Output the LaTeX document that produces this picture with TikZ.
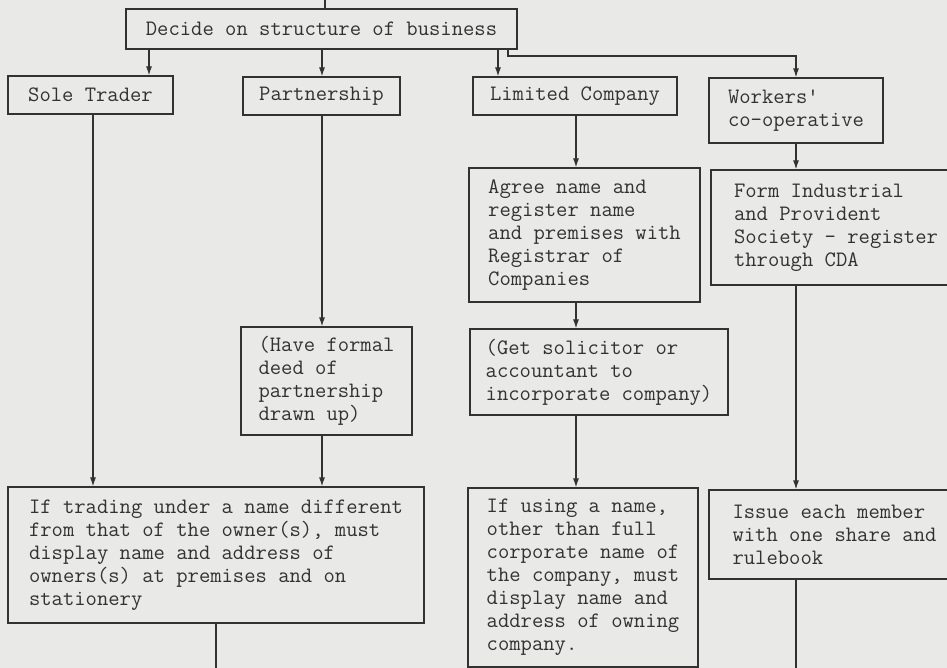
\documentclass[tikz,border=0pt]{standalone}
\usepackage{fontspec}
\usetikzlibrary{arrows.meta}
\definecolor{bgc}{RGB}{233,233,231}
\definecolor{ink}{RGB}{50,50,50}
\begin{document}
\begin{tikzpicture}[x=1pt,y=-1pt,
  box/.style={draw=ink, line width=1.2pt, rectangle, inner sep=0pt, align=left,
    font=\ttfamily\fontsize{22}{23}\selectfont, text=ink},
  arr/.style={draw=ink, line width=1.2pt, -{Latex[length=9pt,width=6pt]}},
  ln/.style={draw=ink, line width=1.2pt}]
\fill[bgc] (0,0) rectangle (947,668);
\useasboundingbox (0,0) rectangle (947,668);
\clip (0,0) rectangle (947,668);

% boxes
\node[box, minimum width=391pt, minimum height=40pt] (decide) at (321.5,29) {Decide on structure of business};
\node[box, minimum width=165pt, minimum height=38pt] (sole) at (90.5,95) {Sole Trader};
\node[box, minimum width=157pt, minimum height=38pt] (part) at (321.5,96) {Partnership};
\node[box, minimum width=204pt, minimum height=38pt] (lim) at (575,96) {Limited Company};
\node[box, minimum width=174pt, minimum height=65pt] (work) at (796,110.5) {Workers'\\co-operative};
\node[box, minimum width=231pt, minimum height=134pt] (agree) at (584.5,235) {Agree name and\\register name\\and premises with\\Registrar of\\Companies};
\node[box, minimum width=250pt, minimum height=115pt] (form) at (836,227.5) {Form Industrial\\and Provident\\Society - register\\through CDA};
\node[box, minimum width=171pt, minimum height=108pt] (have) at (326.5,381) {(Have formal\\deed of\\partnership\\drawn up)};
\node[box, minimum width=258pt, minimum height=86pt] (get) at (599,372) {(Get solicitor or\\accountant to\\incorporate company)};
\node[box, minimum width=416pt, minimum height=136pt] (iftr) at (216,555) {If trading under a name different\\from that of the owner(s), must\\display name and address of\\owners(s) at premises and on\\stationery};
\node[box, minimum width=230pt, minimum height=179pt] (ifus) at (583,577.5) {If using a name,\\other than full\\corporate name of\\the company, must\\display name and\\address of owning\\company.};
\node[box, minimum width=251pt, minimum height=89pt] (issue) at (834.5,534.5) {Issue each member\\with one share and\\rulebook};

% column coordinates
\coordinate (topc) at (325,0);
\coordinate (xa) at (149,0);
\coordinate (xb) at (93,0);
\coordinate (xp) at (322,0);
\coordinate (xl) at (498,0);
\coordinate (xc) at (576,0);
\coordinate (xw) at (508,0);
\coordinate (yw) at (0,56);
\coordinate (endl) at (216,668);
\coordinate (endr) at (796,668);

% connectors
\draw[ln] (topc) -- (decide.north -| topc);
\draw[arr] (decide.south -| xa) -- (sole.north -| xa);
\draw[arr] (decide.south -| xp) -- (part.north -| xp);
\draw[arr] (decide.south -| xl) -- (lim.north -| xl);
\draw[arr] (decide.south -| xw) -- (xw |- yw) -| (work.north);
\draw[arr] (sole.south -| xb) -- (iftr.north -| xb);
\draw[arr] (part.south -| xp) -- (have.north -| xp);
\draw[arr] (have.south -| xp) -- (iftr.north -| xp);
\draw[arr] (lim.south -| xc) -- (agree.north -| xc);
\draw[arr] (agree.south -| xc) -- (get.north -| xc);
\draw[arr] (get.south -| xc) -- (ifus.north -| xc);
\draw[arr] (work.south) -- (form.north -| work.south);
\draw[arr] (form.south -| work.south) -- (issue.north -| work.south);
\draw[ln] (iftr.south) -- (endl);
\draw[ln] (issue.south -| endr) -- (endr);
\end{tikzpicture}
\end{document}
